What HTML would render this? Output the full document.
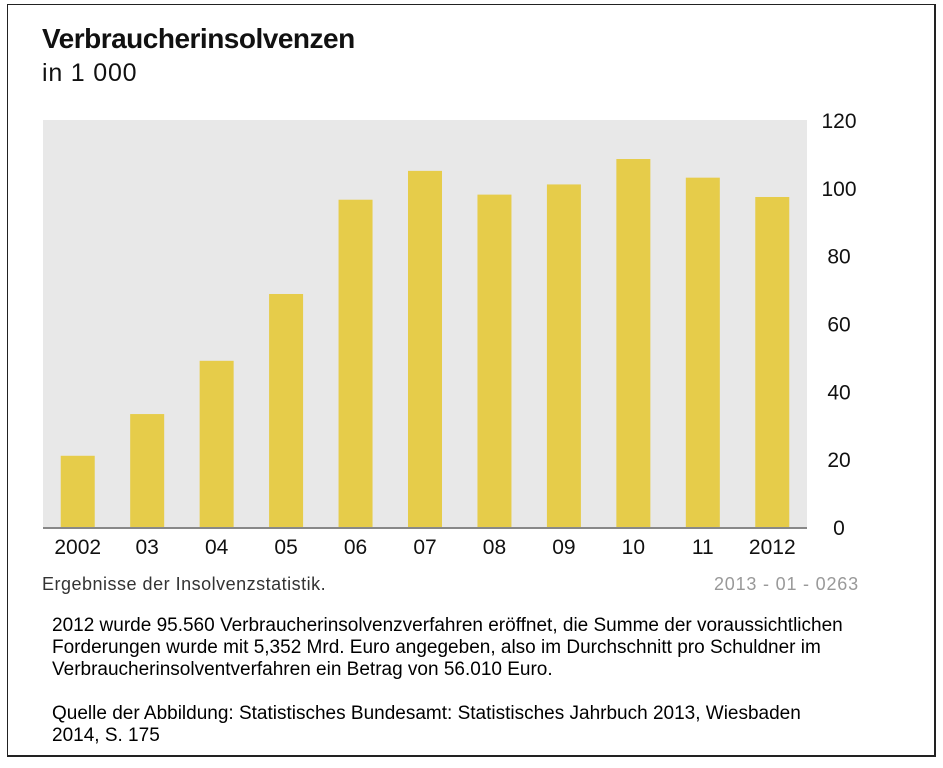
<!DOCTYPE html>
<html><head><meta charset="utf-8"><style>
body{margin:0;width:943px;height:768px;background:#fff;position:relative;font-family:"Liberation Sans",sans-serif;overflow:hidden}
#frame{position:absolute;left:7px;top:4px;width:929px;height:753px;border:1px solid #222;border-right:2px solid #222;border-bottom:2px solid #222;box-sizing:border-box}
.t{position:absolute;white-space:nowrap}
</style></head><body>
<div id="frame"></div>
<div class="t" style="left:42px;top:23px;font-size:28px;font-weight:bold;color:#111;letter-spacing:-0.5px">Verbraucherinsolvenzen</div>
<div class="t" style="left:42px;top:59px;font-size:25px;color:#111;letter-spacing:0.8px">in 1 000</div>
<svg id="chart" width="943" height="600" style="position:absolute;left:0;top:0"></svg>
<div class="t" style="left:42px;top:574px;font-size:18px;color:#333;letter-spacing:0.5px">Ergebnisse der Insolvenzstatistik.</div>
<div class="t" style="left:714px;top:574px;font-size:18px;color:#999;letter-spacing:0.8px">2013 - 01 - 0263</div>
<div class="t" style="left:52px;top:615px;font-size:19px;line-height:22px;color:#000">2012 wurde 95.560 Verbraucherinsolvenzverfahren eröffnet, die Summe der voraussichtlichen<br>Forderungen wurde mit 5,352 Mrd. Euro angegeben, also im Durchschnitt pro Schuldner im<br>Verbraucherinsolventverfahren ein Betrag von 56.010 Euro.<br><br>Quelle der Abbildung: Statistisches Bundesamt: Statistisches Jahrbuch 2013, Wiesbaden<br>2014, S. 175</div>
<script>
const categories=["2002","03","04","05","06","07","08","09","10","11","2012"];
const values=[21,33.3,49,68.7,96.5,105,98,101,108.5,103,97.3];
const yTicks=[0,20,40,60,80,100,120];
const NS="http://www.w3.org/2000/svg";
const svg=document.getElementById('chart');
const L=43,R=807,T=120,B=527,yMax=120;
const y=v=>B-(v/yMax)*(B-T);
const step=(R-L)/categories.length;
const x=i=>L+step*i+step/2;
function mk(t,a){const e=document.createElementNS(NS,t);for(const k in a)e.setAttribute(k,a[k]);svg.appendChild(e);return e;}
const bg=mk('rect',{x:L,y:T,width:R-L,height:B-T,fill:'#e8e8e8'});


yTicks.forEach(v=>{const t=mk('text',{x:839,y:y(v)+8,'text-anchor':'middle','font-size':21,fill:'#111','font-family':'Liberation Sans'});t.textContent=v;

});
values.forEach((v,i)=>{const b=mk('rect',{x:x(i)-17,y:y(v),width:34,height:B-y(v),fill:'#e6cc4a'});


const t=mk('text',{x:x(i),y:554,'text-anchor':'middle','font-size':21,fill:'#111','font-family':'Liberation Sans'});t.textContent=categories[i];

});
const ax=mk('rect',{x:L,y:B,width:R-L,height:2,fill:'#888'});


</script>
</body></html>
